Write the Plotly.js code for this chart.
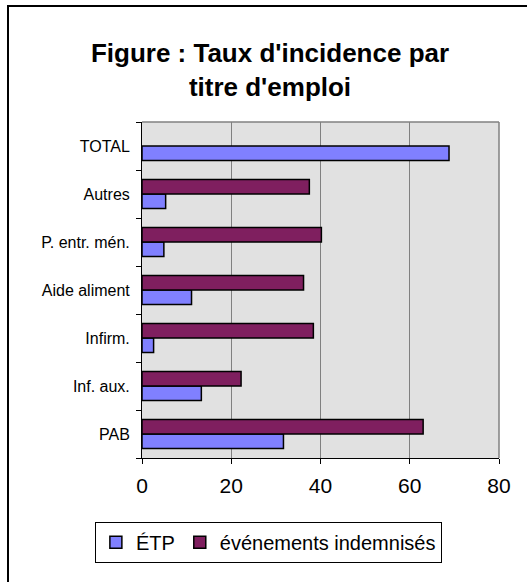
<!DOCTYPE html>
<html>
<head>
<meta charset="utf-8">
<script src="https://cdn.plot.ly/plotly-3.0.1.min.js"></script>
<style>
html,body{margin:0;padding:0;background:#fff;}
#wrap{position:relative;width:527px;height:582px;overflow:hidden;}
#chart{width:527px;height:582px;}
#frame{position:absolute;left:7px;top:5px;width:600px;height:700px;border-top:2px solid #000;border-left:2px solid #000;pointer-events:none;}
</style>
</head>
<body>
<div id="wrap"><div id="chart"></div><div id="frame"></div></div>
<script>
var categories = ["PAB", "Inf. aux.", "Infirm.", "Aide aliment", "P. entr. mén.", "Autres", "TOTAL"];
var etp = [31.7, 13.3, 2.6, 11.1, 4.9, 5.3, 68.8];
var evenements = [63.0, 22.2, 38.4, 36.2, 40.2, 37.5, null];
var xTicks = [0, 20, 40, 60, 80];

var traces = [
  {type: "bar", orientation: "h", name: "ÉTP", y: categories, x: etp,
   marker: {color: "#8080FF", line: {color: "#000000", width: 1.5}}},
  {type: "bar", orientation: "h", name: "événements indemnisés", y: categories, x: evenements,
   marker: {color: "#7F1F5F", line: {color: "#000000", width: 1.5}}}
];

var layout = {
  width: 527, height: 582,
  margin: {l: 141.5, r: 27.7, t: 122, b: 124, pad: 0},
  paper_bgcolor: "#ffffff",
  plot_bgcolor: "#E1E1E1",
  font: {family: "Liberation Sans, Arial, sans-serif", color: "#000000"},
  title: {
    text: "Figure : Taux d'incidence par<br>titre d'emploi",
    font: {family: "Liberation Sans, Arial, sans-serif", size: 26, weight: "bold", color: "#000000"},
    x: 270 / 527, xanchor: "center", xref: "container",
    y: 1 - 62 / 582, yanchor: "middle", yref: "container"
  },
  barmode: "group",
  bargap: 0.4,
  bargroupgap: 0,
  showlegend: true,
  legend: {
    orientation: "h", x: 0.354, xanchor: "center", y: -0.19, yanchor: "top",
    bgcolor: "#ffffff", bordercolor: "#000000", borderwidth: 1,
    font: {size: 20, family: "Liberation Sans, Arial, sans-serif"},
    traceorder: "normal"
  },
  xaxis: {
    range: [0, 80], tickvals: xTicks, ticktext: xTicks.map(String),
    showgrid: true, gridcolor: "#808080", gridwidth: 1,
    zeroline: false, showline: true, linecolor: "#000000", linewidth: 1,
    ticks: "outside", ticklen: 5, tickcolor: "#000000", ticklabelstandoff: 4,
    tickfont: {size: 21}, fixedrange: true
  },
  yaxis: {
    type: "category", categoryorder: "array", categoryarray: categories,
    showgrid: false, zeroline: false, showline: true, linecolor: "#000000", linewidth: 1,
    ticks: "outside", ticklen: 5, tickcolor: "#000000", tickson: "boundaries",
    ticklabelstandoff: 8,
    tickfont: {size: 16}, fixedrange: true
  },
  shapes: [
    {type: "line", xref: "paper", yref: "paper", x0: 0, x1: 1, y0: 1, y1: 1,
     line: {color: "#808080", width: 1.5}, layer: "below"},
    {type: "line", xref: "paper", yref: "paper", x0: 1, x1: 1, y0: 0, y1: 1,
     line: {color: "#808080", width: 1.5}, layer: "below"}
  ]
};

Plotly.newPlot("chart", traces, layout, {displayModeBar: false, staticPlot: true});
</script>
</body>
</html>
